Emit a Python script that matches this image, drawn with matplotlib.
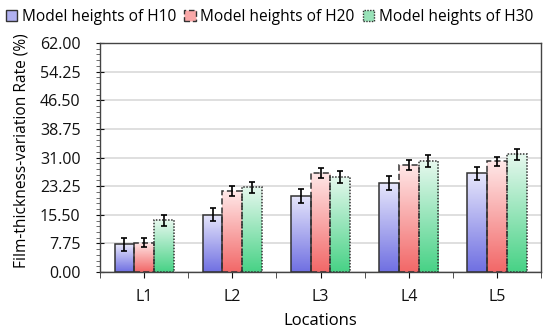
import matplotlib
matplotlib.use("Agg")
import matplotlib.pyplot as plt
import numpy as np
from matplotlib.colors import LinearSegmentedColormap
from matplotlib.patches import Patch
from matplotlib.ticker import AutoMinorLocator, FixedLocator

plt.rcParams['font.family'] = ['Open Sans', 'DejaVu Sans']

# data
locations = ["L1", "L2", "L3", "L4", "L5"]
series = ["Model heights of H10", "Model heights of H20", "Model heights of H30"]
h10 = [7.5, 15.5, 20.6, 24.0, 26.7]
h20 = [7.9, 21.9, 26.9, 29.0, 30.0]
h30 = [14.0, 22.9, 25.8, 30.0, 31.9]
h10_err = [1.7, 1.8, 1.8, 1.9, 1.75]
h20_err = [1.2, 1.35, 1.35, 1.25, 1.25]
h30_err = [1.5, 1.5, 1.6, 1.6, 1.5]
yticks = [0, 7.75, 15.5, 23.25, 31.0, 38.75, 46.5, 54.25, 62.0]

values = [h10, h20, h30]
errors = [h10_err, h20_err, h30_err]
# (top colour, bottom colour) of each gradient
grads = [("#e6e6fb", "#7070e2"), ("#ffe8e8", "#f26868"), ("#e6f8ee", "#48d286")]
mid = ["#b0b0f0", "#f9a8a8", "#98e2b8"]
styles = ["solid", (0, (4, 2)), (0, (1, 1))]

fig = plt.figure(figsize=(5.5, 3.33), dpi=100)
ax = fig.add_axes([0.182, 0.183, 0.8016, 0.688])

x = np.arange(len(locations))
w = 0.224
for i in range(3):
    pos = x + (i - 1) * w
    bars = ax.bar(pos, values[i], w, facecolor="none", edgecolor="#333333",
                  linewidth=1.1, linestyle=styles[i], zorder=3)
    cmap = LinearSegmentedColormap.from_list("g%d" % i, [grads[i][1], grads[i][0]])
    for b in bars:
        x0, y0 = b.get_x(), b.get_y()
        bw, bh = b.get_width(), b.get_height()
        im = ax.imshow(np.linspace(0, 1, 100).reshape(-1, 1), cmap=cmap, aspect="auto",
                       extent=[x0, x0 + bw, y0, y0 + bh], origin="lower", zorder=2)
        im.set_clip_path(b)
    ax.errorbar(pos, values[i], yerr=errors[i], fmt="none", ecolor="black",
                elinewidth=1.2, capsize=2, capthick=1.2, zorder=4)

ax.set_xlim(-0.5, len(locations) - 0.5)
ax.set_ylim(0, 62)
ax.set_yticks(yticks)
ax.set_yticklabels(["%.2f" % v for v in yticks])
ax.yaxis.set_minor_locator(AutoMinorLocator(5))
ax.set_xticks(x)
ax.set_xticklabels(locations)
ax.xaxis.set_minor_locator(FixedLocator(np.arange(-0.5, len(locations), 1.0)))
ax.tick_params(axis="x", which="both", length=4, direction="out", color="#333333", pad=8)
ax.tick_params(axis="y", which="major", length=6, direction="inout", color="#333333", pad=11)
ax.tick_params(axis="y", which="minor", length=3, direction="out", color="#555555")
ax.tick_params(labelsize=11.5, colors="#111111")
ax.yaxis.grid(True, color="#d9d9d9", linewidth=1.2, zorder=0)
ax.set_axisbelow(True)
for s in ax.spines.values():
    s.set_color("#444444")
    s.set_linewidth(1.0)

ax.set_xlabel("Locations", fontsize=12, labelpad=6)
ax.set_ylabel("Film-thickness-variation Rate (%)", fontsize=11.2)
ax.yaxis.set_label_coords(-0.16, 0.53)

handles = [Patch(facecolor=mid[i], edgecolor="#333333", linestyle=styles[i], linewidth=1.0)
           for i in range(3)]
fig.legend(handles, series, loc="upper center", bbox_to_anchor=(0.49, 1.01), ncol=3,
           frameon=False, fontsize=11.2, handlelength=0.75, handleheight=0.75,
           handletextpad=0.3, columnspacing=0.5, borderpad=0.3)

fig.savefig("out.png", dpi=100)
